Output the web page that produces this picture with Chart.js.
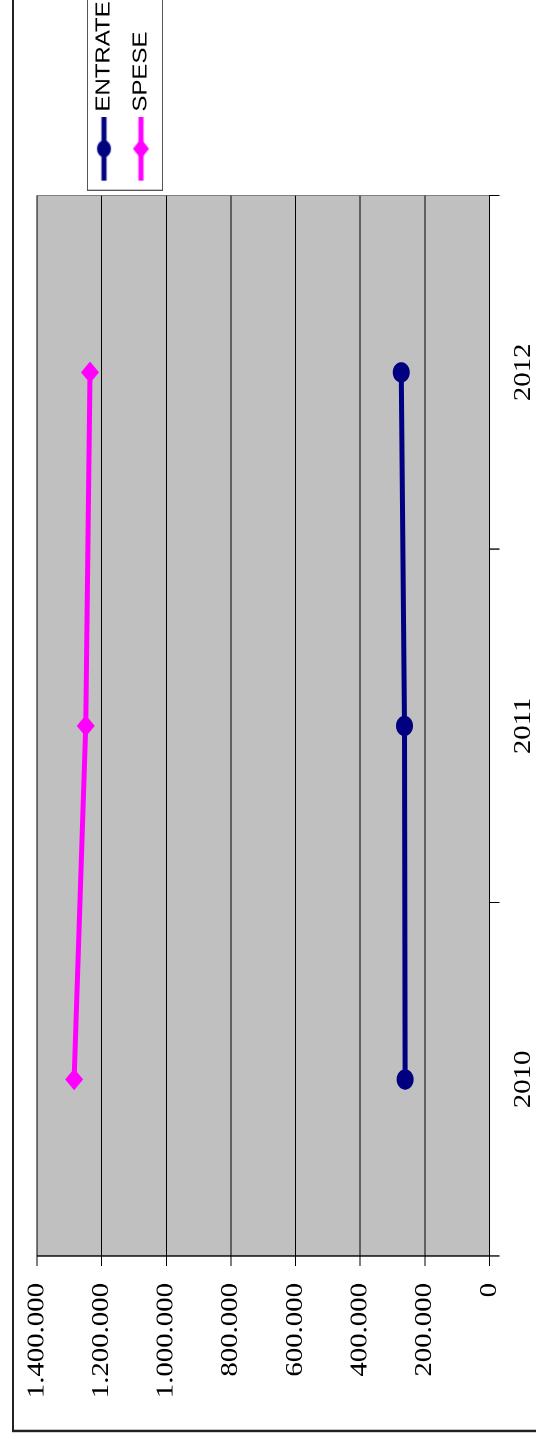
<!DOCTYPE html>
<html>
<head>
<meta charset="utf-8">
<script src="https://cdn.jsdelivr.net/npm/chart.js@4/dist/chart.umd.min.js"></script>
<style>
  html, body { margin: 0; padding: 0; background: #fff; overflow: hidden; }
  body { width: 536px; height: 1439px; position: relative; }
  /* the chart is drawn landscape, then turned a quarter and stretched like the original */
  #wrap {
    position: absolute; left: 0; top: 0;
    width: 1199px; height: 536px;
    transform-origin: 0 0;
    transform: translateY(1439px) rotate(-90deg) scaleX(1.2002);
  }
  .probe { position: absolute; left: -9999px; top: 0; font-size: 24px; }
</style>
</head>
<body>
<span class="probe" style="font-family: 'Liberation Serif'">0123</span>
<span class="probe" style="font-family: 'Liberation Sans'">SPESE</span>
<div id="wrap"><canvas id="myChart"></canvas></div>
<script>
const anni = ['2010', '2011', '2012'];
const entrate = [261000, 263000, 273000];
const spese = [1285000, 1249000, 1236000];
const yTickLabels = ['0', '200.000', '400.000', '600.000', '800.000', '1.000.000', '1.200.000', '1.400.000'];

const BLU = '#000080';
const MAGENTA = '#ff00ff';
const SERIF = "'Liberation Serif', 'Times New Roman', serif";
const SANS = "'Liberation Sans', Arial, sans-serif";

function legendIcon(color, shape) {
  const c = document.createElement('canvas');
  c.width = 53;
  c.height = 20;
  const g = c.getContext('2d');
  g.strokeStyle = color;
  g.fillStyle = color;
  g.lineWidth = 5;
  g.beginPath();
  g.moveTo(0, 10);
  g.lineTo(53, 10);
  g.stroke();
  g.beginPath();
  if (shape === 'circle') {
    g.arc(26.5, 10, 7, 0, Math.PI * 2);
  } else {
    g.moveTo(26.5, 2);
    g.lineTo(35, 10);
    g.lineTo(26.5, 18);
    g.lineTo(18, 10);
    g.closePath();
  }
  g.fill();
  return c;
}
const icone = [legendIcon(BLU, 'circle'), legendIcon(MAGENTA, 'diamond')];

// grey plot area, outer frame, legend frame; legend moved next to the plot
const cornice = {
  id: 'cornice',
  afterLayout(chart) {
    const lg = chart.legend;
    lg.left = 1037;
    lg.top = 77;
    lg.right = chart.width;
    lg.bottom = 170;
    lg.width = lg.right - lg.left;
    lg.height = lg.bottom - lg.top;
  },
  beforeDraw(chart) {
    const ctx = chart.ctx;
    const a = chart.chartArea;
    ctx.save();
    ctx.fillStyle = '#c0c0c0';
    ctx.fillRect(a.left, a.top, a.right - a.left, a.bottom - a.top);
    ctx.strokeStyle = '#808080';
    ctx.lineWidth = 1;
    ctx.strokeRect(a.left, a.top, a.right - a.left, a.bottom - a.top);

    ctx.strokeStyle = '#222';
    ctx.lineWidth = 2;
    ctx.beginPath();
    ctx.moveTo(chart.width + 5, 13);
    ctx.lineTo(6.7, 13);
    ctx.lineTo(6.7, chart.height + 5);
    ctx.stroke();

    ctx.strokeStyle = '#555';
    ctx.lineWidth = 1;
    ctx.strokeRect(1040.5, 87.5, chart.width, 75);
    ctx.restore();
  }
};

function disegna() {
  Chart.defaults.font.family = SERIF;
  Chart.defaults.color = '#000';

  const ctx = document.getElementById('myChart').getContext('2d');
  const myChart = new Chart(ctx, {
    type: 'line',
    data: {
      labels: anni,
      datasets: [
        {
          label: 'ENTRATE',
          data: entrate,
          borderColor: BLU,
          backgroundColor: BLU,
          borderWidth: 5,
          pointStyle: 'circle',
          pointRadius: 8.5,
          pointHoverRadius: 8.5,
          pointBorderWidth: 0,
          tension: 0,
        },
        {
          label: 'SPESE',
          data: spese,
          borderColor: MAGENTA,
          backgroundColor: MAGENTA,
          borderWidth: 5,
          pointStyle: 'rectRot',
          pointRadius: 9,
          pointHoverRadius: 9,
          pointBorderWidth: 0,
          tension: 0,
        },
      ],
    },
    options: {
      responsive: true,
      maintainAspectRatio: false,
      animation: false,
      devicePixelRatio: 2,
      layout: {
        padding: { left: 34, right: 163, top: 37, bottom: 0 },
      },
      plugins: {
        tooltip: { enabled: false },
        legend: {
          position: 'chartArea',
          align: 'start',
          labels: {
            usePointStyle: true,
            pointStyleWidth: 42,
            padding: 17,
            color: '#000',
            font: { family: SANS, size: 20 },
            generateLabels(chart) {
              const items = Chart.defaults.plugins.legend.labels.generateLabels(chart);
              items.forEach((it, i) => {
                it.pointStyle = icone[i];
              });
              return items;
            },
          },
        },
      },
      scales: {
        x: {
          offset: true,
          afterFit: scale => { scale.height = 46.5; },
          grid: {
            offset: true,
            drawOnChartArea: false,
            tickLength: 10,
            color: '#000',
          },
          border: { color: '#000' },
          ticks: {
            padding: 12,
            color: '#000',
            font: { family: SERIF, size: 24, lineHeight: 1 },
          },
        },
        y: {
          min: 0,
          max: 1400000,
          afterFit: scale => { scale.width = 118.3; },
          ticks: {
            stepSize: 200000,
            padding: 14,
            color: '#000',
            font: { family: SERIF, size: 24, lineHeight: 1 },
            callback: (value, index) => yTickLabels[index],
          },
          grid: {
            color: '#000',
            tickLength: 8.3,
          },
          border: { color: '#000' },
        },
      },
    },
    plugins: [cornice],
  });
}

Promise.all([
  document.fonts.load("24px 'Liberation Serif'"),
  document.fonts.load("20px 'Liberation Sans'"),
]).then(disegna, disegna);
</script>
</body>
</html>
